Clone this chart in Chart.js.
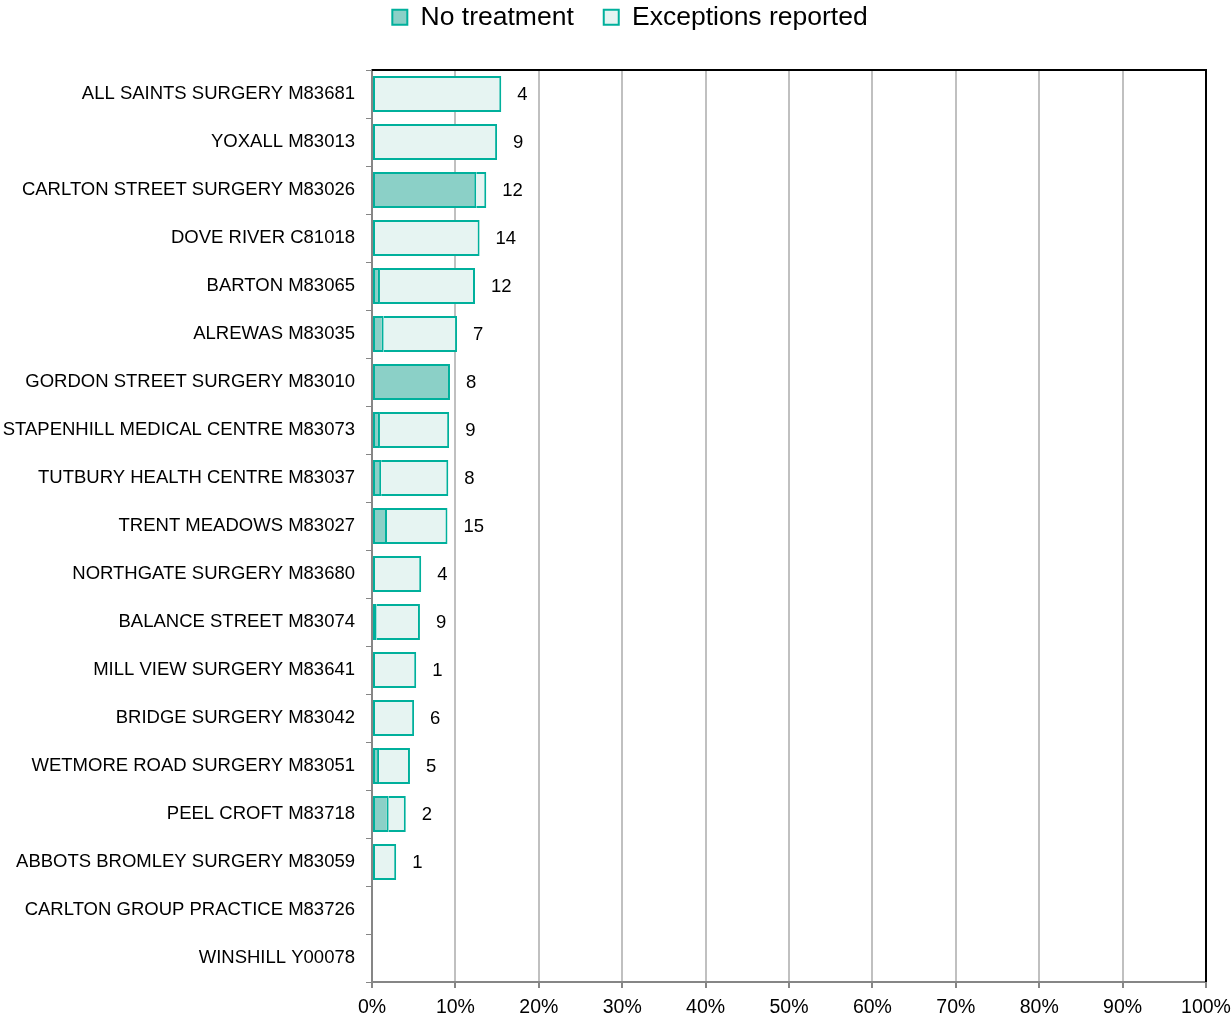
<!DOCTYPE html>
<html>
<head>
<meta charset="utf-8">
<script src="https://cdn.jsdelivr.net/npm/chart.js@4/dist/chart.umd.min.js"></script>
<style>
  html, body { margin: 0; padding: 0; background: #fff; }
  #wrap { width: 1232px; height: 1019px; position: relative; }
</style>
</head>
<body>
<div id="wrap"><canvas id="chart"></canvas></div>
<script>
// --- data ---
const practices = [
    'ALL SAINTS SURGERY M83681',
    'YOXALL M83013',
    'CARLTON STREET SURGERY M83026',
    'DOVE RIVER C81018',
    'BARTON M83065',
    'ALREWAS M83035',
    'GORDON STREET SURGERY M83010',
    'STAPENHILL MEDICAL CENTRE M83073',
    'TUTBURY HEALTH CENTRE M83037',
    'TRENT MEADOWS M83027',
    'NORTHGATE SURGERY M83680',
    'BALANCE STREET M83074',
    'MILL VIEW SURGERY M83641',
    'BRIDGE SURGERY M83042',
    'WETMORE ROAD SURGERY M83051',
    'PEEL CROFT M83718',
    'ABBOTS BROMLEY SURGERY M83059',
    'CARLTON GROUP PRACTICE M83726',
    'WINSHILL Y00078'
];
// percentages
const noTreatment = [0, 0, 12.5, 0, 0.95, 1.4, 9.35, 0.95, 1.1, 1.8, 0, 0.55, 0, 0, 0.85, 2.0, 0, 0, 0];
const exceptions  = [15.5, 15.0, 1.2, 12.9, 11.4, 8.8, 0, 8.3, 8.05, 7.25, 5.9, 5.2, 5.3, 5.05, 3.7, 2.05, 2.9, 0, 0];
// numbers printed after each bar
const counts = [4, 9, 12, 14, 12, 7, 8, 9, 8, 15, 4, 9, 1, 6, 5, 2, 1, null, null];
const xTicks = [0, 10, 20, 30, 40, 50, 60, 70, 80, 90, 100];

const teal = '#00b09c';
const FONT = 'Liberation Sans, Arial, sans-serif';

// count labels after the stacked bars
const countLabels = {
    id: 'countLabels',
    afterDatasetsDraw(chart) {
        const c = chart.ctx;
        const m0 = chart.getDatasetMeta(0);
        const m1 = chart.getDatasetMeta(1);
        c.save();
        c.font = '18.5px ' + FONT;
        c.fillStyle = '#000';
        c.textAlign = 'left';
        c.textBaseline = 'middle';
        counts.forEach((n, i) => {
            if (n === null) return;
            const end = Math.max(m0.data[i].x, m1.data[i].x);
            c.fillText(String(n), end + 16, m1.data[i].y + 1);
        });
        c.restore();
    }
};

// black top and right frame
const frame = {
    id: 'frame',
    afterDraw(chart) {
        const a = chart.chartArea;
        const c = chart.ctx;
        c.save();
        c.strokeStyle = '#000';
        c.lineWidth = 2;
        c.beginPath();
        c.moveTo(a.left, a.top);
        c.lineTo(a.right, a.top);
        c.lineTo(a.right, a.bottom);
        c.stroke();
        c.restore();
    }
};

// leave more room under the legend, nudge it right a bit
const legendGap = {
    id: 'legendGap',
    beforeInit(chart) {
        const fit = chart.legend.fit;
        chart.legend.fit = function () {
            fit.bind(chart.legend)();
            this.height = 96;
            if (this.lineWidths && this.lineWidths.length) this.lineWidths[0] -= 54;
        };
    }
};

const ctx = document.getElementById('chart').getContext('2d');
const chart = new Chart(ctx, {
    type: 'bar',
    data: {
        labels: practices,
        datasets: [{
            label: 'No treatment',
            data: noTreatment,
            backgroundColor: '#8bd0c7',
            borderColor: teal,
            borderWidth: 2,
            borderSkipped: false,
            categoryPercentage: 1,
            barPercentage: 0.75
        }, {
            label: 'Exceptions reported',
            data: exceptions,
            backgroundColor: '#e6f4f2',
            borderColor: teal,
            borderWidth: 2,
            borderSkipped: c => (noTreatment[c.dataIndex] > 0 ? 'left' : false),
            categoryPercentage: 1,
            barPercentage: 0.75
        }]
    },
    options: {
        indexAxis: 'y',
        responsive: true,
        maintainAspectRatio: false,
        animation: false,
        layout: { padding: { top: -26, right: 26, left: 0, bottom: 0 } },
        plugins: {
            legend: {
                position: 'top',
                labels: {
                    color: '#000',
                    font: { family: FONT, size: 26.5 },
                    boxWidth: 15,
                    boxHeight: 15,
                    padding: 30
                }
            },
            tooltip: { enabled: false }
        },
        scales: {
            x: {
                stacked: true,
                min: 0,
                max: 100,
                afterBuildTicks: s => { s.ticks = xTicks.map(v => ({ value: v })); },
                afterFit: s => { s.height = 37; s.paddingLeft = 0; s.paddingRight = 0; },
                ticks: {
                    color: '#000',
                    font: { family: FONT, size: 19.5 },
                    padding: 8,
                    maxRotation: 0,
                    callback: v => v + '%'
                },
                grid: { color: '#c0c0c0', lineWidth: 2, tickColor: '#868686', tickLength: 6 },
                border: { color: '#868686', width: 2 }
            },
            y: {
                stacked: true,
                afterFit: s => { s.width = 372; },
                ticks: {
                    color: '#000',
                    font: { family: FONT, size: 18.5 },
                    padding: 11,
                    autoSkip: false
                },
                grid: { drawOnChartArea: false, offset: true, tickColor: '#868686', tickLength: 6 },
                border: { color: '#868686', width: 2 }
            }
        }
    },
    plugins: [legendGap, countLabels, frame]
});
</script>
</body>
</html>
